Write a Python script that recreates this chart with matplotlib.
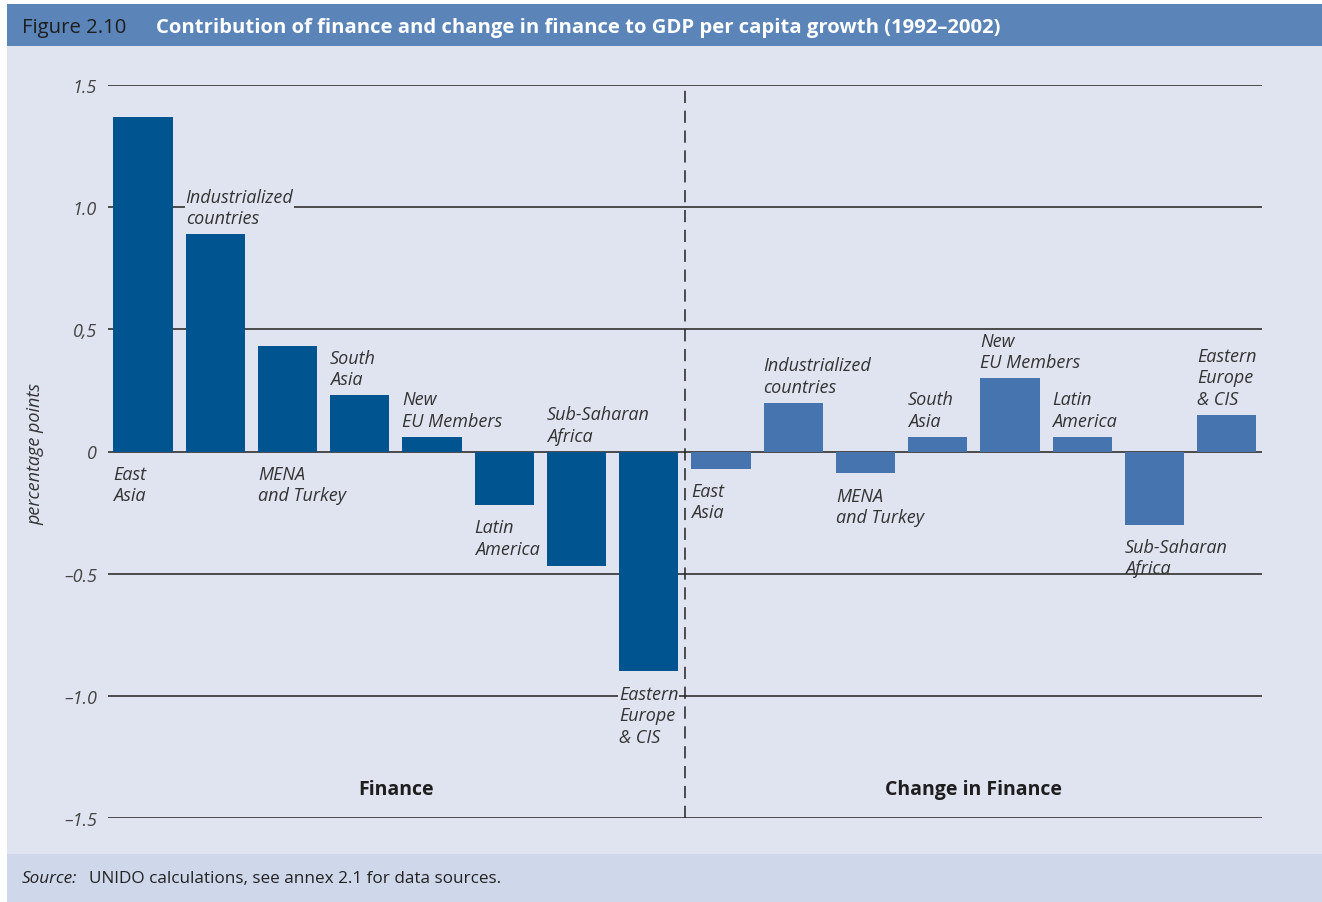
import matplotlib.pyplot as plt
from matplotlib.patches import Rectangle

# data (percentage points)
regions = ["East\nAsia", "Industrialized\ncountries", "MENA\nand Turkey", "South\nAsia",
           "New\nEU Members", "Latin\nAmerica", "Sub-Saharan\nAfrica", "Eastern\nEurope\n& CIS"]
finance = [1.37, 0.89, 0.43, 0.23, 0.06, -0.22, -0.47, -0.90]
change_finance = [-0.07, 0.20, -0.09, 0.06, 0.30, 0.06, -0.30, 0.15]
# where each label sits: above the bar/zero or below it
finance_pos = ["below", "above", "below", "above", "above", "below", "above", "below"]
change_pos = ["below", "above", "below", "above", "above", "above", "below", "above"]
yticks = [1.5, 1.0, 0.5, 0, -0.5, -1.0, -1.5]
ytick_labels = ["1.5", "1.0", "0,5", "0", "\u20130.5", "\u20131.0", "\u20131.5"]

plt.rcParams['font.family'] = ['Open Sans', 'DejaVu Sans']

W, H = 1322, 903
fig = plt.figure(figsize=(W / 100, H / 100), dpi=100)

bg = "#dfe4f0"
fig.patches.append(Rectangle((7 / W, 1 - 855 / H), 1, (855 - 47) / H, transform=fig.transFigure,
                             facecolor=bg, edgecolor="none", zorder=-5))
fig.patches.append(Rectangle((7 / W, 0), 1, (903 - 855) / H, transform=fig.transFigure,
                             facecolor="#cfd8ea", edgecolor="none", zorder=-5))
fig.patches.append(Rectangle((7 / W, 1 - 47 / H), 1, 42 / H, transform=fig.transFigure,
                             facecolor="#5b84b8", edgecolor="none", zorder=-5))

fig.text(22 / W, 1 - 28 / H, "Figure 2.10", fontsize=14.6, color="#1e1e1e", va="center")
fig.text(156 / W, 1 - 28 / H,
         "Contribution of finance and change in finance to GDP per capita growth (1992\u20132002)",
         fontsize=14.6, color="white", fontweight="bold", va="center")
fig.text(22 / W, 1 - 879 / H, "Source:", fontsize=12.3, style="italic", color="#222", va="center")
fig.text(89 / W, 1 - 879 / H, "UNIDO calculations, see annex 2.1 for data sources.",
         fontsize=12.3, color="#222", va="center")

ax = fig.add_axes([108 / W, 1 - 819 / H, (1262 - 108) / W, (819 - 86) / H])
ax.set_facecolor("none")
for s in ax.spines.values():
    s.set_visible(False)

n = len(regions)
xf = list(range(n))
xc = list(range(n, 2 * n))
width = 0.82

for y in yticks:
    ax.axhline(y, color="#4a4a4a", lw=1.4, zorder=1)

ax.bar(xf, finance, width=width, color="#00548f", zorder=2)
ax.bar(xc, change_finance, width=width, color="#4574ae", zorder=2)

ax.plot([n - 0.5, n - 0.5], [-1.5, 1.49], color="#222", lw=1.1, dashes=(8, 5), zorder=3)

# finance labels sit on gridlines in the original, so they get a background box
groups = [(xf, finance, finance_pos, dict(facecolor=bg, edgecolor="none", pad=0.5)),
          (xc, change_finance, change_pos, None)]
for xs, vals, poss, box in groups:
    for x, v, p, name in zip(xs, vals, poss, regions):
        style = dict(fontsize=13, style="italic", color="#333", linespacing=1.25, zorder=4, bbox=box,
                     textcoords="offset points", ha="left")
        if p == "above":
            ax.annotate(name, (x - width / 2, max(v, 0)), xytext=(0, 5), va="bottom", **style)
        else:
            ax.annotate(name, (x - width / 2, min(v, 0)), xytext=(0, -9.5), va="top", **style)

ax.text((n - 1) / 2, -1.38, "Finance", ha="center", va="center", fontsize=14, fontweight="bold", color="#1e1e1e")
ax.text(n + (n - 1) / 2, -1.38, "Change in Finance", ha="center", va="center", fontsize=14,
        fontweight="bold", color="#1e1e1e")

ax.set_xlim(-0.485, 2 * n - 1 + 0.49)
ax.set_ylim(-1.5, 1.5)
ax.set_xticks([])
ax.set_yticks(yticks)
ax.set_yticklabels(ytick_labels, fontsize=13, style="italic", color="#444")
ax.tick_params(axis="y", length=0, pad=8)

fig.text(35 / W, 1 - 454 / H, "percentage points", rotation=90, fontsize=13, style="italic",
         color="#333", ha="center", va="center")

fig.savefig("out.png", dpi=100)
